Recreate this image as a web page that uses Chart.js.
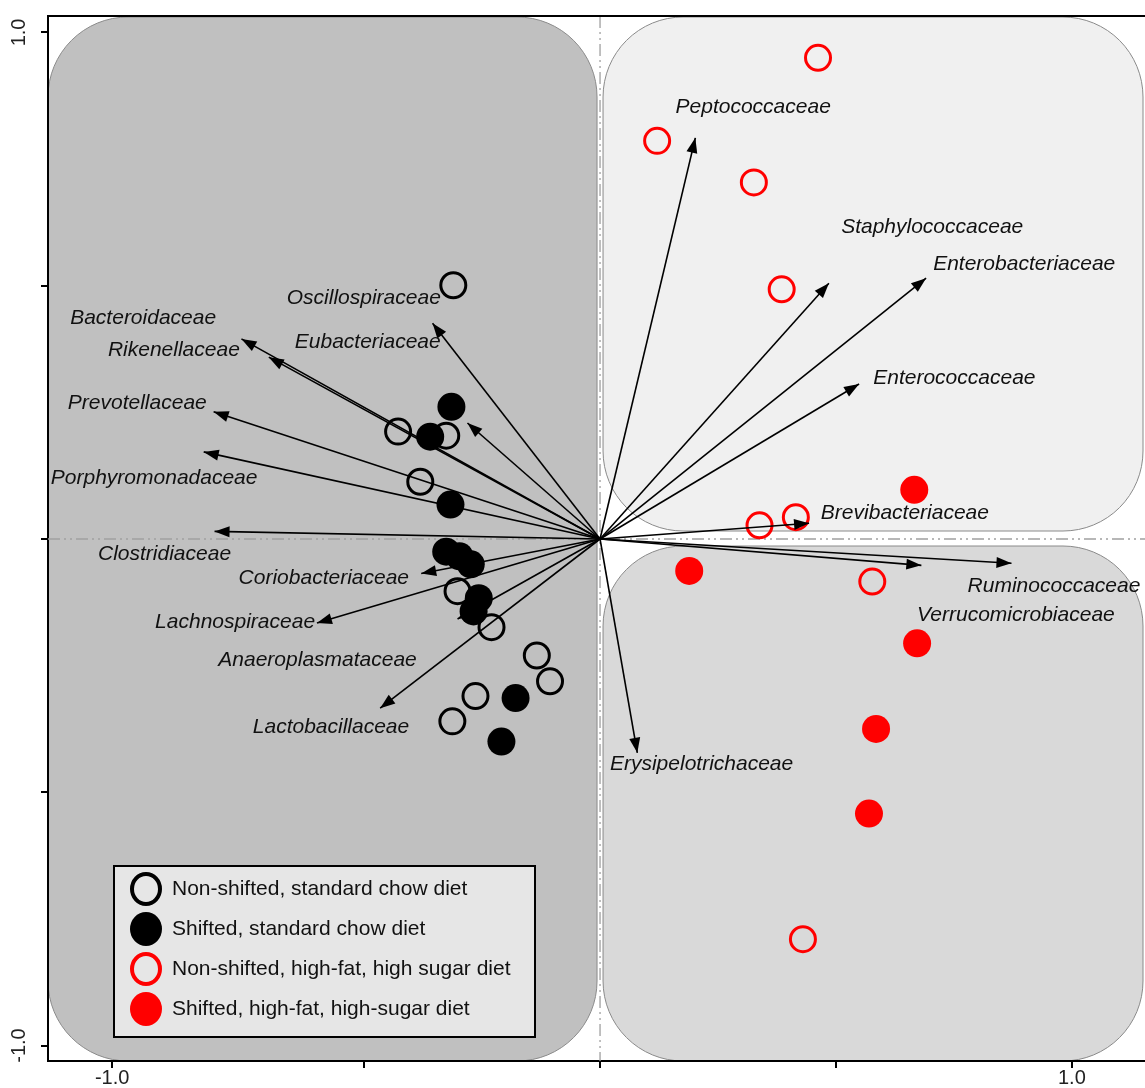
<!DOCTYPE html>
<html lang="en">
<head>
  <meta charset="UTF-8">
  <title>Family biplot</title>
  <style>
    html, body { margin: 0; padding: 0; background: #fff; }
    #wrap { width: 1145px; height: 1088px; }
  </style>
</head>
<body>
  <div id="wrap"><canvas id="biplot" width="1145" height="1088"></canvas></div>

  <script src="https://cdn.jsdelivr.net/npm/chart.js"></script>
  <script>
    // Sample scores as [x, y]
    const nonShiftedChow = [
      [-0.311, 0.501], [-0.428, 0.212], [-0.326, 0.204], [-0.381, 0.113], [-0.302, -0.103],
      [-0.230, -0.174], [-0.134, -0.230], [-0.106, -0.281], [-0.264, -0.310], [-0.313, -0.360]
    ];
    const shiftedChow = [
      [-0.315, 0.261], [-0.360, 0.202], [-0.317, 0.068], [-0.326, -0.025], [-0.298, -0.034],
      [-0.274, -0.050], [-0.257, -0.117], [-0.268, -0.143], [-0.179, -0.314], [-0.209, -0.400]
    ];
    const nonShiftedHfhs = [
      [0.462, 0.950], [0.121, 0.786], [0.326, 0.704], [0.385, 0.493],
      [0.338, 0.027], [0.415, 0.043], [0.577, -0.084], [0.430, -0.790]
    ];
    const shiftedHfhs = [
      [0.666, 0.097], [0.189, -0.063], [0.672, -0.206], [0.585, -0.375], [0.570, -0.542]
    ];

    // Family arrows (tip coordinates) and where their names sit
    const families = [
      "Peptococcaceae", "Staphylococcaceae", "Enterobacteriaceae", "Enterococcaceae",
      "Brevibacteriaceae", "Ruminococcaceae", "Verrucomicrobiaceae", "Erysipelotrichaceae",
      "Lactobacillaceae", "Anaeroplasmataceae", "Lachnospiraceae", "Coriobacteriaceae",
      "Clostridiaceae", "Porphyromonadaceae", "Prevotellaceae", "Rikenellaceae",
      "Bacteroidaceae", "Oscillospiraceae", "Eubacteriaceae"
    ];
    const arrowX = [0.202, 0.485, 0.691, 0.549, 0.443, 0.872, 0.681, 0.079, -0.466, -0.302,
                    -0.600, -0.379, -0.817, -0.840, -0.819, -0.702, -0.760, -0.355, -0.281];
    const arrowY = [0.792, 0.505, 0.515, 0.306, 0.031, -0.048, -0.052, -0.422, -0.334, -0.158,
                    -0.166, -0.068, 0.015, 0.172, 0.251, 0.359, 0.395, 0.426, 0.229];
    const labelX = [0.160, 0.511, 0.706, 0.579, 0.468, 0.779, 0.672, 0.021, -0.736, -0.809,
                    -0.943, -0.766, -1.064, -1.164, -1.128, -1.043, -1.123, -0.664, -0.647];
    const labelY = [0.853, 0.615, 0.542, 0.318, 0.052, -0.094, -0.151, -0.444, -0.371, -0.239,
                    -0.164, -0.078, -0.029, 0.121, 0.269, 0.373, 0.436, 0.475, 0.389];

    // Axis ticks (the -1.0 tick sits a little left of its linear spot in the source)
    const xTickValues = [-1.034, -0.5, 0, 0.5, 1.0];
    const xTickLabels = ["-1.0", "", "", "", "1.0"];
    const yTickValues = [-1.0, -0.5, 0, 0.5, 1.0];
    const yTickLabels = ["-1.0", "", "", "", "1.0"];

    const FONT = "'Liberation Sans', Arial, sans-serif";
    const toPts = arr => arr.map(p => ({ x: p[0], y: p[1] }));

    const groups = [
      { label: "Non-shifted, standard chow diet", data: nonShiftedChow, color: "#000000", filled: false },
      { label: "Shifted, standard chow diet", data: shiftedChow, color: "#000000", filled: true },
      { label: "Non-shifted, high-fat, high sugar diet", data: nonShiftedHfhs, color: "#ff0000", filled: false },
      { label: "Shifted, high-fat, high-sugar diet", data: shiftedHfhs, color: "#ff0000", filled: true }
    ];

    const pointSets = groups.map(g => ({
      type: "scatter",
      label: g.label,
      data: toPts(g.data),
      pointRadius: g.filled ? 14 : 12.5,
      pointBorderWidth: g.filled ? 0 : 3,
      pointBorderColor: g.color,
      pointBackgroundColor: g.filled ? g.color : "rgba(0,0,0,0)",
      order: 2
    }));

    const arrowSets = families.map((name, i) => ({
      type: "line",
      label: name,
      data: [{ x: 0, y: 0 }, { x: arrowX[i], y: arrowY[i] }],
      borderColor: "#000",
      borderWidth: 1.6,
      pointRadius: 0,
      fill: false,
      isArrow: true,
      order: 1
    }));

    function roundRect(ctx, x, y, w, h, r) {
      ctx.beginPath();
      ctx.moveTo(x + r, y);
      ctx.arcTo(x + w, y, x + w, y + h, r);
      ctx.arcTo(x + w, y + h, x, y + h, r);
      ctx.arcTo(x, y + h, x, y, r);
      ctx.arcTo(x, y, x + w, y, r);
      ctx.closePath();
    }

    // quadrant panels behind everything
    const panels = {
      id: "panels",
      beforeDraw(chart) {
        const { ctx, chartArea: a, scales: { x, y } } = chart;
        const x0 = x.getPixelForValue(0);
        const y0 = y.getPixelForValue(0);
        const r = 80;
        ctx.save();
        ctx.strokeStyle = "#8a8a8a";
        ctx.lineWidth = 1;
        roundRect(ctx, a.left, a.top + 1, x0 - 3 - a.left, a.bottom - a.top - 1, r);
        ctx.fillStyle = "#c0c0c0"; ctx.fill(); ctx.stroke();
        roundRect(ctx, x0 + 3, a.top + 1, a.right - x0 - 5, y0 - 8 - a.top - 1, r);
        ctx.fillStyle = "#f0f0f0"; ctx.fill(); ctx.stroke();
        roundRect(ctx, x0 + 3, y0 + 7, a.right - x0 - 5, a.bottom - y0 - 7, r);
        ctx.fillStyle = "#d9d9d9"; ctx.fill(); ctx.stroke();
        ctx.restore();
      },
      beforeDatasetsDraw(chart) {
        const { ctx, chartArea: a, scales: { x, y } } = chart;
        const x0 = x.getPixelForValue(0);
        const y0 = y.getPixelForValue(0);
        ctx.save();
        ctx.strokeStyle = "#a0a0a0";
        ctx.lineWidth = 1.3;
        ctx.setLineDash([12, 4, 2, 4, 2, 4]);
        ctx.beginPath();
        ctx.moveTo(a.left, y0); ctx.lineTo(a.right, y0);
        ctx.moveTo(x0, a.top); ctx.lineTo(x0, a.bottom);
        ctx.stroke();
        ctx.setLineDash([]);
        // top frame line
        ctx.strokeStyle = "#000";
        ctx.lineWidth = 2;
        ctx.beginPath();
        ctx.moveTo(a.left - 1, a.top); ctx.lineTo(a.right, a.top);
        ctx.stroke();
        ctx.restore();
      }
    };

    // arrowheads and family names
    const arrowHeads = {
      id: "arrowHeads",
      afterDatasetsDraw(chart) {
        const { ctx, scales: { x, y } } = chart;
        ctx.save();
        chart.data.datasets.forEach((ds, i) => {
          if (!ds.isArrow) return;
          const pts = chart.getDatasetMeta(i).data;
          const sx = pts[0].x, sy = pts[0].y, tx = pts[1].x, ty = pts[1].y;
          const ang = Math.atan2(ty - sy, tx - sx);
          const len = 15, half = 5.5;
          ctx.fillStyle = "#000";
          ctx.beginPath();
          ctx.moveTo(tx, ty);
          ctx.lineTo(tx - len * Math.cos(ang) + half * Math.sin(ang), ty - len * Math.sin(ang) - half * Math.cos(ang));
          ctx.lineTo(tx - len * Math.cos(ang) - half * Math.sin(ang), ty - len * Math.sin(ang) + half * Math.cos(ang));
          ctx.closePath();
          ctx.fill();
        });
        ctx.font = "italic 21px " + FONT;
        ctx.fillStyle = "#111";
        ctx.textAlign = "left";
        ctx.textBaseline = "middle";
        families.forEach((name, i) => {
          ctx.fillText(name, x.getPixelForValue(labelX[i]), y.getPixelForValue(labelY[i]));
        });
        ctx.restore();
      }
    };

    // boxed legend in the lower-left corner of the plot
    const boxLegend = {
      id: "boxLegend",
      afterDraw(chart) {
        const { ctx } = chart;
        const bx = 114, by = 866, bw = 421, bh = 171;
        ctx.save();
        ctx.fillStyle = "#e6e6e6";
        ctx.fillRect(bx, by, bw, bh);
        ctx.strokeStyle = "#000";
        ctx.lineWidth = 2;
        ctx.strokeRect(bx, by, bw, bh);
        ctx.font = "21px " + FONT;
        ctx.textBaseline = "middle";
        ctx.textAlign = "left";
        groups.forEach((g, i) => {
          const cy = by + 23 + i * 40;
          const cx = bx + 32;
          ctx.beginPath();
          if (g.filled) {
            ctx.ellipse(cx, cy, 16, 17, 0, 0, Math.PI * 2);
            ctx.fillStyle = g.color;
            ctx.fill();
          } else {
            ctx.ellipse(cx, cy, 14, 15, 0, 0, Math.PI * 2);
            ctx.strokeStyle = g.color;
            ctx.lineWidth = 4;
            ctx.stroke();
          }
          ctx.fillStyle = "#111";
          ctx.fillText(g.label, bx + 58, cy);
        });
        ctx.restore();
      }
    };

    new Chart(document.getElementById("biplot"), {
      data: { datasets: [...arrowSets, ...pointSets] },
      options: {
        responsive: false,
        animation: false,
        devicePixelRatio: 1,
        layout: { autoPadding: false, padding: { top: 10, left: 0, right: 0, bottom: 0 } },
        plugins: { legend: { display: false }, tooltip: { enabled: false } },
        scales: {
          x: {
            type: "linear",
            min: -1.17,
            max: 1.155,
            afterBuildTicks: s => { s.ticks = xTickValues.map(v => ({ value: v })); },
            afterFit: s => { s.height = 27; },
            border: { display: true, color: "#000", width: 2 },
            grid: { drawOnChartArea: false, drawTicks: true, tickLength: 7, color: "#000", lineWidth: 2 },
            ticks: {
              callback: (v, i) => xTickLabels[i],
              autoSkip: false,
              maxRotation: 0,
              padding: -2,
              color: "#222",
              font: { family: FONT, size: 20 }
            }
          },
          y: {
            type: "linear",
            min: -1.0305,
            max: 1.0325,
            afterBuildTicks: s => { s.ticks = yTickValues.map(v => ({ value: v })); },
            afterFit: s => { s.width = 48; },
            border: { display: true, color: "#000", width: 2 },
            grid: { drawOnChartArea: false, drawTicks: true, tickLength: 7, color: "#000", lineWidth: 2 },
            ticks: {
              callback: (v, i) => yTickLabels[i],
              autoSkip: false,
              minRotation: 90,
              maxRotation: 90,
              crossAlign: "center",
              padding: 4,
              color: "#222",
              font: { family: FONT, size: 20 }
            }
          }
        }
      },
      plugins: [panels, arrowHeads, boxLegend]
    });
  </script>
</body>
</html>
